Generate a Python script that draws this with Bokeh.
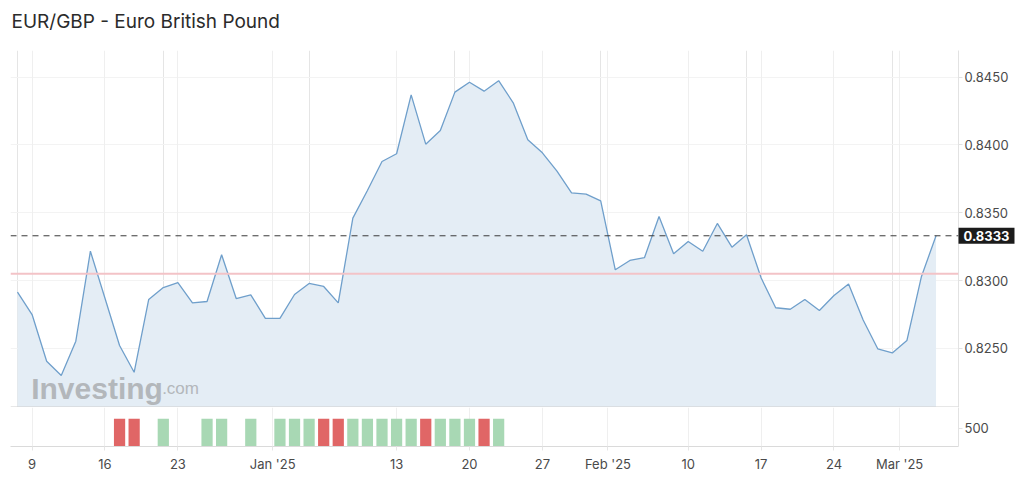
from bokeh.plotting import figure
from bokeh.layouts import column
from bokeh.models import (FixedTicker, Span, Label, Range1d, NumeralTickFormatter, Grid, Title)
from bokeh.embed import file_html
from bokeh.resources import INLINE

title_text = "EUR/GBP - Euro British Pound"

# daily closes, 6 Dec 2024 .. 5 Mar 2025 (trading days)
close = [0.82914, 0.82749, 0.82404, 0.82299, 0.82552, 0.83216, 0.82869, 0.82520,
         0.82323, 0.82860, 0.82948, 0.82985, 0.82835, 0.82845, 0.83190, 0.82867,
         0.82894, 0.82720, 0.82720, 0.82897, 0.82978, 0.82956, 0.82835, 0.83460,
         0.83664, 0.83878, 0.83935, 0.84370, 0.84006, 0.84107, 0.84390, 0.84463,
         0.84397, 0.84474, 0.84311, 0.84038, 0.83942, 0.83807, 0.83647, 0.83637,
         0.83588, 0.83079, 0.83148, 0.83168, 0.83472, 0.83197, 0.83288, 0.83216,
         0.83421, 0.83246, 0.83337, 0.83020, 0.82799, 0.82788, 0.82860, 0.82779,
         0.82889, 0.82975, 0.82709, 0.82496, 0.82466, 0.82557, 0.83030, 0.83330]

volume = [0, 0, 0, 0, 0, 0, 0, 770, 770, 0, 770, 0, 0, 770, 770, 0,
          770, 0, 770, 770, 770, 770, 770, 770, 770, 770, 770, 770, 770, 770, 770, 770,
          770, 770, 0, 0, 0, 0, 0, 0, 0, 0, 0, 0, 0, 0, 0, 0,
          0, 0, 0, 0, 0, 0, 0, 0, 0, 0, 0, 0, 0, 0, 0, 0]

ref_level = 0.8305

price_ticks = [0.8250, 0.8300, 0.8350, 0.8400, 0.8450]
date_tick_pos = [1, 6, 11, 17.5, 26, 31, 36, 40.5, 46, 51, 56, 60.5]
date_tick_labels = ["9", "16", "23", "Jan '25", "13", "20", "27", "Feb '25", "10", "17", "24", "Mar '25"]
volume_ticks = [500]

FONT = "Inter"
N = len(close)
idx = list(range(N))

x_lo, x_hi = -0.48, 64.54
y_lo, y_hi = 0.82063, 0.84697
LEFT, TOP, FW, FH = 10, 50, 948, 357

p1 = figure(frame_width=FW, frame_height=FH,
            x_range=Range1d(x_lo, x_hi), y_range=Range1d(y_lo, y_hi),
            output_backend="svg", toolbar_location=None,
            y_axis_location="right", x_axis_location=None,
            min_border_left=LEFT, min_border_right=58, min_border_top=TOP, min_border_bottom=0,
            title=None)
# spacer between title and frame, then the title itself (stacked above it)
p1.add_layout(Title(text=" ", text_font_size="1px", standoff=8), "above")
p1.add_layout(Title(text=title_text, text_font=FONT, text_font_size="19px",
                    text_font_style="normal", text_color="#2b2b2b",
                    offset=1, standoff=14), "above")
p1.outline_line_color = None
p1.background_fill_color = "white"
p1.border_fill_color = "white"

ax = p1.yaxis[0]
ax.ticker = FixedTicker(ticks=price_ticks)
ax.formatter = NumeralTickFormatter(format="0.0000")
ax.axis_line_color = "#e2e2e2"
ax.major_tick_line_color = "#e2e2e2"
ax.major_tick_out = 4
ax.major_tick_in = 0
ax.minor_tick_line_color = None
ax.major_label_standoff = 2
ax.major_label_text_font = FONT
ax.major_label_text_font_size = "13px"
ax.major_label_text_color = "#4a4a4a"
p1.ygrid.grid_line_color = "#f3f3f3"
p1.ygrid.ticker = FixedTicker(ticks=price_ticks)
p1.add_layout(Grid(dimension=0, ticker=FixedTicker(ticks=date_tick_pos), grid_line_color="#efefef"))

p1.varea(x=idx, y1=y_lo, y2=close, fill_color="#e4edf5")
p1.line(x=idx, y=close, line_color="#6f9fcb", line_width=1.3)

p1.add_layout(Span(location=ref_level, dimension="width", line_color="#f3c3c7", line_width=2))
p1.add_layout(Span(location=close[-1], dimension="width", line_color="#3a3a3a",
                   line_width=1, line_dash="6 5"))
p1.add_layout(Span(location=y_lo, dimension="width", line_color="#cfcfcf", line_width=2))

# last-price marker on the right axis (in the side panel so it is not clipped to the frame)
p1.add_layout(Label(x=LEFT + FW, y=close[-1], x_units="canvas", y_units="data",
                    text=f"{close[-1]:.4f}", text_color="white",
                    text_font=FONT, text_font_size="13px", text_font_style="bold",
                    text_baseline="middle", text_align="left",
                    background_fill_color="#1b1b1b",
                    padding=dict(left=5, right=5, top=3, bottom=3)), "right")

p1.add_layout(Label(x=0.94, y=0.82203, text="Investing", text_color="#b3b7bb",
                    text_font="Liberation Sans", text_font_size="30px", text_font_style="bold",
                    text_baseline="alphabetic"))
p1.add_layout(Label(x=9.92, y=0.82203, text=".com", text_color="#b3b7bb",
                    text_font="Liberation Sans", text_font_size="17px",
                    text_baseline="alphabetic"))

# volume pane
vol_x = [i for i in idx if volume[i] > 0]
vol_v = [volume[i] for i in vol_x]
vol_c = ["#e06666" if (i > 0 and close[i] < close[i - 1]) else "#a8d8b4" for i in vol_x]

p2 = figure(frame_width=FW, frame_height=39,
            x_range=p1.x_range, y_range=Range1d(0, 1083),
            output_backend="svg", toolbar_location=None,
            y_axis_location="right",
            min_border_left=LEFT, min_border_right=58, min_border_top=0, min_border_bottom=0)
p2.outline_line_color = None
p2.vbar(x=vol_x, top=vol_v, width=0.77, fill_color=vol_c, line_color=None)

ay = p2.yaxis[0]
ay.ticker = FixedTicker(ticks=volume_ticks)
ay.axis_line_color = "#e2e2e2"
ay.major_tick_line_color = "#e2e2e2"
ay.major_tick_out = 4
ay.major_tick_in = 0
ay.minor_tick_line_color = None
ay.major_label_standoff = 2
ay.major_label_text_font = FONT
ay.major_label_text_font_size = "13px"
ay.major_label_text_color = "#4a4a4a"
p2.ygrid.grid_line_color = None

axx = p2.xaxis[0]
axx.ticker = FixedTicker(ticks=date_tick_pos)
axx.major_label_overrides = {pos: lab for pos, lab in zip(date_tick_pos, date_tick_labels)}
axx.axis_line_color = "#dadada"
axx.major_tick_line_color = "#e6e6e6"
axx.major_tick_out = 4
axx.major_tick_in = 0
axx.minor_tick_line_color = None
axx.major_label_standoff = 5
axx.major_label_text_font = FONT
axx.major_label_text_font_size = "13px"
axx.major_label_text_color = "#4a4a4a"
p2.xgrid.grid_line_color = "#efefef"
p2.xgrid.ticker = FixedTicker(ticks=date_tick_pos)

layout = column(p1, p2, spacing=0)
open("out.html", "w").write(file_html(layout, INLINE))
